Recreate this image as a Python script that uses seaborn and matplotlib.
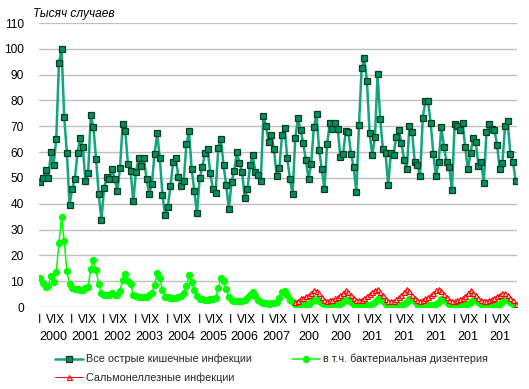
import matplotlib
matplotlib.use("Agg")
import matplotlib.pyplot as plt
import matplotlib.transforms as mtransforms
import numpy as np
import pandas as pd
import seaborn as sns

# ---------------- data (thousand cases, monthly 2000-2014) ----------------
years = ["2000", "2001", "2002", "2003", "2004", "2005", "2006", "2007",
         "200", "200", "201", "201", "201", "201", "201"]
month_labels = ["I", "VIX"]

all_intestinal = [
    48.3, 49.9, 53.1, 49.9, 60.0, 55.0, 65.1, 94.4, 100.0, 73.5, 59.6, 39.5,
    45.6, 49.5, 59.6, 65.4, 61.9, 48.7, 51.8, 74.3, 69.6, 57.2, 43.7, 33.6,
    46.0, 50.3, 49.5, 53.4, 49.5, 45.0, 53.7, 70.8, 68.1, 55.3, 52.6, 41.0,
    52.2, 57.6, 54.5, 57.6, 49.5, 43.7, 47.6, 59.2, 67.3, 57.6, 43.3, 35.5,
    38.6, 46.7, 56.2, 57.6, 50.3, 46.7, 48.7, 63.0, 68.1, 53.3, 44.8, 36.3,
    49.9, 54.2, 59.6, 61.1, 51.8, 45.6, 44.0, 61.5, 65.0, 54.9, 47.2, 37.9,
    48.3, 52.6, 60.0, 55.7, 52.2, 42.1, 45.6, 54.9, 58.8, 52.2, 51.0, 48.7,
    73.9, 70.0, 63.8, 66.5, 61.1, 50.7, 53.7, 66.5, 69.2, 57.6, 49.5, 43.7,
    65.4, 73.1, 68.6, 63.4, 56.9, 49.5, 55.4, 69.7, 74.7, 60.7, 53.4, 45.6,
    63.0, 71.2, 68.9, 71.2, 68.9, 58.0, 59.2, 68.1, 67.7, 59.2, 54.2, 44.4,
    70.4, 92.5, 96.4, 87.5, 67.3, 58.8, 65.8, 90.1, 72.8, 61.1, 59.6, 47.2,
    59.6, 58.8, 65.8, 68.5, 63.4, 56.9, 53.5, 70.0, 67.7, 56.2, 54.9, 50.7,
    73.1, 79.7, 79.7, 71.2, 59.2, 50.7, 56.2, 69.7, 61.9, 56.2, 54.2, 45.2,
    70.8, 70.0, 68.5, 71.2, 61.9, 53.3, 59.6, 65.4, 63.8, 54.5, 56.2, 48.0,
    67.7, 70.8, 68.9, 68.5, 62.7, 53.4, 55.7, 70.0, 71.9, 59.2, 56.2, 48.7,
]

dysentery = [
    11.1, 9.2, 7.9, 8.1, 12.0, 9.8, 13.7, 24.7, 34.8, 25.4, 13.8, 8.8,
    7.2, 6.8, 6.8, 6.5, 6.5, 7.2, 7.9, 14.6, 18.1, 14.3, 8.8, 5.3,
    4.7, 4.8, 4.8, 5.3, 4.7, 4.8, 6.2, 10.5, 12.7, 10.1, 8.9, 4.7,
    4.3, 4.0, 3.9, 3.9, 4.0, 4.5, 5.5, 8.5, 13.0, 11.1, 6.7, 4.0,
    3.8, 3.6, 3.6, 3.6, 3.8, 4.2, 5.3, 8.1, 12.4, 9.8, 6.6, 4.3,
    3.2, 3.0, 2.9, 2.9, 3.0, 3.2, 3.6, 7.2, 11.1, 10.2, 6.8, 4.0,
    2.7, 2.5, 2.4, 2.4, 2.5, 2.8, 3.5, 4.7, 5.8, 4.3, 2.6, 2.0,
    1.6, 1.4, 1.3, 1.4, 1.6, 2.0, 3.6, 5.9, 6.3, 4.7, 2.7, 1.8,
    1.2, 1.0, 0.9, 0.9, 1.0, 1.3, 2.0, 2.8, 3.0, 2.2, 1.4, 1.1,
    1.0, 0.9, 0.8, 0.8, 0.9, 1.2, 1.9, 2.7, 2.9, 2.1, 1.3, 1.0,
    0.9, 0.8, 0.8, 0.8, 0.9, 1.2, 2.0, 3.0, 3.1, 2.2, 1.3, 1.0,
    0.9, 0.8, 0.7, 0.8, 0.9, 1.2, 2.1, 3.0, 3.2, 2.2, 1.3, 1.0,
    0.9, 0.8, 0.8, 0.8, 0.9, 1.2, 2.0, 3.0, 3.1, 2.1, 1.3, 1.0,
    0.9, 0.8, 0.7, 0.7, 0.8, 1.1, 1.8, 2.7, 2.9, 2.0, 1.2, 0.9,
    0.8, 0.7, 0.7, 0.7, 0.8, 1.1, 1.8, 2.6, 2.8, 1.9, 1.1, 0.6,
]

salmonella = [np.nan] * 96 + [
    2.1, 2.4, 3.4, 3.6, 4.1, 4.6, 5.3, 6.6, 6.3, 5.3, 4.0, 2.9,
    2.5, 2.8, 2.8, 3.3, 4.0, 4.6, 5.5, 6.5, 5.9, 4.6, 3.6, 2.7,
    2.6, 2.9, 3.4, 4.3, 5.0, 5.8, 6.7, 7.0, 6.0, 4.8, 3.2, 2.4,
    2.3, 2.5, 3.0, 3.9, 4.8, 5.9, 7.0, 6.2, 4.8, 3.6, 2.8, 2.4,
    2.9, 3.3, 4.0, 4.6, 5.4, 6.4, 7.0, 6.2, 5.0, 3.8, 2.8, 2.4,
    2.2, 2.6, 3.1, 3.6, 4.4, 5.3, 6.5, 5.6, 4.6, 3.6, 2.8, 2.5,
    2.3, 2.7, 3.1, 3.6, 4.2, 4.8, 5.3, 5.3, 4.8, 3.5, 2.6, 1.2,
]

labels = ["Все острые кишечные инфекции",
          "в т.ч. бактериальная дизентерия",
          "Сальмонеллезные инфекции"]

month_idx = np.arange(len(all_intestinal))
df = pd.DataFrame({"m": month_idx, "all": all_intestinal,
                   "dys": dysentery, "sal": salmonella})

# ---------------- figure ----------------
sns.set_theme(style="white")
plt.rcParams["font.family"] = ["Liberation Sans", "DejaVu Sans"]

fig = plt.figure(figsize=(5.29, 3.89), dpi=100)
W, H = 529, 389
ax = fig.add_axes([39 / W, 1 - 307 / H, (517 - 39) / W, (307 - 23) / H])

ax.set_ylim(0, 110)
ax.set_xlim(-0.5, len(month_idx) - 0.5)
ax.set_yticks(np.arange(0, 111, 10))
ax.yaxis.grid(True, color="#BFBFBF", linewidth=1.0)
ax.xaxis.grid(False)
ax.set_axisbelow(True)
for s in ax.spines.values():
    s.set_visible(False)

# dysentery
sns.lineplot(data=df, x="m", y="dys", ax=ax, color="#00FF00", linewidth=1.1,
             marker="o", markersize=4.5, markeredgecolor="#00FF00",
             markerfacecolor="#00FF00", label=labels[1], legend=False, zorder=3)
# salmonella
sns.lineplot(data=df.dropna(), x="m", y="sal", ax=ax, color="#FF0000", linewidth=0.7,
             marker="^", markersize=3.6, markeredgecolor="#FF0000",
             markerfacecolor="#FFD0D0", markeredgewidth=0.8,
             label=labels[2], legend=False, zorder=4)
# all intestinal infections
sns.lineplot(data=df, x="m", y="all", ax=ax, color="#12A57E", linewidth=1.8,
             marker="s", markersize=4.9, markeredgecolor="#0B3B1E",
             markerfacecolor="#00915E", markeredgewidth=0.9,
             label=labels[0], legend=False, zorder=5)

ax.set_xlabel("")
ax.set_ylabel("")
ax.tick_params(axis="y", length=0, pad=11, labelsize=8.6, labelcolor="#000000")

# month tick labels (two per year) and year labels
tick_pos, tick_lab = [], []
for k in range(len(years)):
    tick_pos += [12 * k - 0.2, 12 * k + 5.6]
    tick_lab += month_labels
ax.set_xticks(tick_pos)
ax.set_xticklabels(tick_lab, fontsize=8.6, color="#000000")
ax.tick_params(axis="x", length=0, pad=5)

trans = mtransforms.blended_transform_factory(ax.transData, fig.transFigure)
for k, yl in enumerate(years):
    ax.text(12 * k + 5.0, 1 - 337 / H, yl, transform=trans, ha="center",
            va="center", fontsize=9, color="#000000")

fig.text(33 / W, 1 - 14 / H, "Тысяч случаев", fontsize=8.6, style="italic",
         ha="left", va="center", color="#000000")

# legend
h = {l.get_label(): l for l in ax.get_lines()}
handles = [h[labels[0]], h[labels[2]], h[labels[1]]]
fig.legend(handles, [labels[0], labels[2], labels[1]], ncol=2,
           loc="upper left", bbox_to_anchor=(55 / W, 1 - 354 / H),
           frameon=False, fontsize=7.8, handlelength=2.6, handletextpad=0.25,
           columnspacing=3.7, labelspacing=0.75, borderaxespad=0, borderpad=0)

fig.savefig("out.png", dpi=100)
